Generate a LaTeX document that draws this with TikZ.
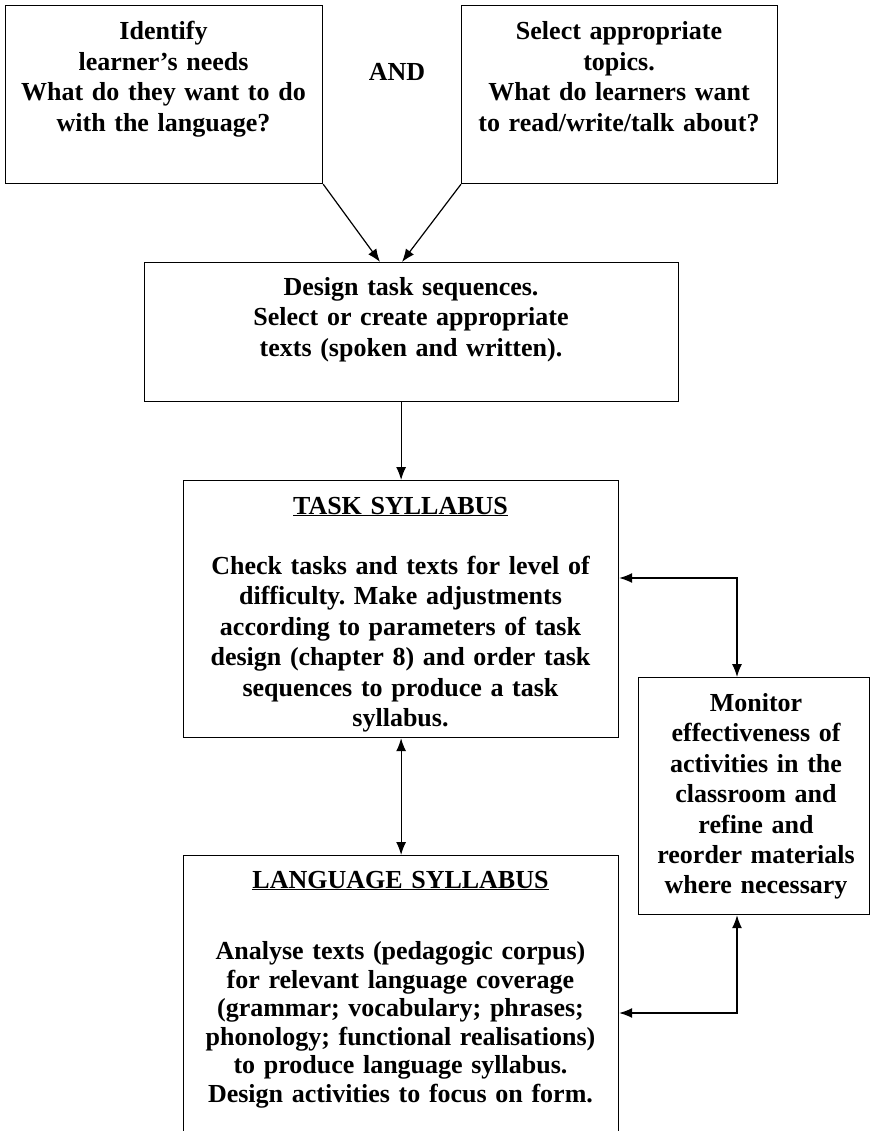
\documentclass[tikz,border=0pt]{standalone}
\usepackage{fontspec}
\setmainfont{Liberation Serif}
\usetikzlibrary{arrows.meta}
\frenchspacing

\tikzset{
  box/.style={draw, line width=1.2pt, anchor=north west, inner sep=0pt},
  txt/.style={align=center, anchor=base, inner sep=0pt, font=\bfseries\fontsize{26}{30.4}\selectfont},
  link/.style={line width=1.2pt, -{Latex[length=13pt,width=10pt]}},
  links/.style={line width=1.2pt, {Latex[length=13pt,width=10pt]}-{Latex[length=13pt,width=10pt]}}
}

\begin{document}
\begin{tikzpicture}[x=1pt, y=-1pt]
  \useasboundingbox (0,0) rectangle (871,1131);

  \node[box, minimum width=317pt, minimum height=178pt] (needs) at (5,5) {};
  \node[box, minimum width=316pt, minimum height=178pt] (topics) at (461,5) {};
  \node[box, minimum width=534pt, minimum height=139pt] (design) at (144,262) {};
  \node[box, minimum width=435pt, minimum height=257pt] (task) at (183,480) {};
  \node[box, minimum width=435pt, minimum height=300pt] (lang) at (183,855) {};
  \node[box, minimum width=231pt, minimum height=237pt] (monitor) at (638,677) {};

  \node[txt, text width=300pt] (needstxt) at (163.5,40) {Identify\\learner’s needs\\What do they want to do\\with the language?};
  \node[txt] (andtxt) at (397,81) {AND};
  \node[txt, text width=300pt] (topicstxt) at (619,40) {Select appropriate\\topics.\\What do learners want\\to read/write/talk about?};
  \node[txt, text width=520pt] (designtxt) at (411,295.5) {Design task sequences.\\Select or create appropriate\\texts (spoken and written).};
  \node[txt, text width=420pt] (tasktxt) at (400.5,514) {\underline{TASK SYLLABUS}\\[30pt]Check tasks and texts for level of\\difficulty. Make adjustments\\according to parameters of task\\design (chapter 8) and order task\\sequences to produce a task\\syllabus.};
  \node[txt, text width=225pt] (monitortxt) at (756,711.5) {Monitor\\effectiveness of\\activities in the\\classroom and\\refine and\\reorder materials\\where necessary};
  \node[txt, text width=420pt, font=\bfseries\fontsize{26}{28.5}\selectfont] (langtxt) at (400.5,888) {\underline{LANGUAGE SYLLABUS}\\[43pt]Analyse texts (pedagogic corpus)\\for relevant language coverage\\(grammar; vocabulary; phrases;\\phonology; functional realisations)\\to produce language syllabus.\\Design activities to focus on form.};

  \coordinate (in1) at (380,262);
  \coordinate (in2) at (402,262);
  \coordinate (tr) at (737,578);
  \coordinate (br) at (737,1013);

  \draw[link] (needs.south east) -- (in1);
  \draw[link] (topics.south west) -- (in2);
  \draw[link] (task.north |- design.south) -- (task.north);
  \draw[links] (task.south) -- (lang.north);
  \draw[links] (task.east |- tr) -| (tr |- monitor.north);
  \draw[links] (br |- monitor.south) |- (lang.east |- br);
\end{tikzpicture}
\end{document}
